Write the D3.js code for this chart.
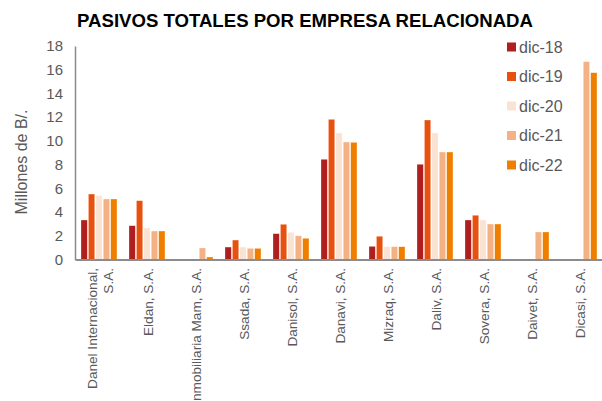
<!DOCTYPE html>
<html><head><meta charset="utf-8">
<script src="https://cdn.jsdelivr.net/npm/d3@7"></script>
<style>body{margin:0;background:#fff;} svg{display:block;font-family:"Liberation Sans",Arial,sans-serif;}</style>
</head><body><svg id="c" width="602" height="401"></svg>
<script>
const categories = ["Danel Internacional, S.A.","Eldan, S.A.","Inmobiliaria Mam, S.A.","Ssada, S.A.","Danisol, S.A.","Danavi, S.A.","Mizraq, S.A.","Daliv, S.A.","Sovera, S.A.","Daivet, S.A.","Dicasi, S.A."];
const categoryLines = [["Danel Internacional,","S.A."],["Eldan, S.A."],["Inmobiliaria Mam, S.A."],["Ssada, S.A."],["Danisol, S.A."],["Danavi, S.A."],["Mizraq, S.A."],["Daliv, S.A."],["Sovera, S.A."],["Daivet, S.A."],["Dicasi, S.A."]];
const seriesNames = ["dic-18","dic-19","dic-20","dic-21","dic-22"];
const dic18 = [3.33, 2.85, null, 1.05, 2.18, 8.45, 1.11, 8.03, 3.33, null, null];
const dic19 = [5.52, 4.96, null, 1.64, 2.97, 11.82, 1.96, 11.76, 3.73, null, null];
const dic20 = [5.38, 2.66, null, 1.05, 2.29, 10.67, 1.08, 10.67, 3.33, null, null];
const dic21 = [5.10, 2.40, 0.97, 0.94, 2.00, 9.91, 1.08, 9.06, 2.99, 2.32, 16.68];
const dic22 = [5.10, 2.40, 0.21, 0.94, 1.79, 9.88, 1.08, 9.06, 2.99, 2.32, 15.75];
const yTicks = [0,2,4,6,8,10,12,14,16,18];
const colors = ["#B01F1F","#E8500E","#FBE3D4","#F4B183","#EF7F00"];
const seriesValues = [dic18, dic19, dic20, dic21, dic22];

(function(){
const svg = d3.select("#c");
const pL = 75, pR = 603, pT = 46, pB = 259.5;
const x = d3.scaleBand().domain(categories).range([pL, pR]).paddingInner(0.25).paddingOuter(0.125);
const x1 = d3.scaleBand().domain(seriesNames).range([0, x.bandwidth()]).paddingInner(0.15);
const y = d3.scaleLinear().domain([0, 18]).range([pB, pT]);

svg.append("text").attr("x", 305).attr("y", 27).attr("text-anchor","middle")
  .attr("font-size", 18.6).attr("font-weight","bold").attr("fill","#000")
  .text("PASIVOS TOTALES POR EMPRESA RELACIONADA");

const g = svg.append("g");
seriesNames.forEach((s, si) => {
  g.selectAll(null).data(categories.map((c, i) => ({c, v: seriesValues[si][i]})).filter(d => d.v != null))
    .enter().append("rect")
    .attr("x", d => x(d.c) + x1(s))
    .attr("width", x1.bandwidth())
    .attr("y", d => y(d.v))
    .attr("height", d => y(0) - y(d.v))
    .attr("fill", colors[si])
    .attr("stroke", "#fff").attr("stroke-opacity", 0.5).attr("stroke-width", 0.6);
});

const ya = svg.append("g").attr("transform", `translate(${pL},0)`)
  .call(d3.axisLeft(y).tickValues(yTicks).tickSize(0).tickPadding(12));
ya.select(".domain").attr("stroke", "#898989").attr("stroke-width", 1.5);
ya.selectAll("text").attr("font-size", 15).attr("fill", "#595959").attr("font-family", "Liberation Sans, Arial, sans-serif");

const xa = svg.append("g").attr("transform", `translate(0,${pB})`)
  .call(d3.axisBottom(x).tickSize(0).tickFormat(""));
xa.select(".domain").attr("stroke", "#8c8c8c").attr("stroke-width", 2);

categories.forEach((c, i) => {
  const lines = categoryLines[i];
  const cx = x(c) + x.bandwidth() / 2 + 1;
  const t = svg.append("text")
    .attr("transform", `translate(${cx},268) rotate(-90)`)
    .attr("text-anchor", "end").attr("font-size", 13.6).attr("fill", "#595959");
  const lh = 16.5;
  lines.forEach((ln, li) => {
    t.append("tspan").attr("x", 0)
      .attr("y", (li - (lines.length - 1) / 2) * lh)
      .attr("dy", "0.35em").text(ln);
  });
});

svg.append("text").attr("transform", "translate(21,162) rotate(-90)")
  .attr("text-anchor","middle").attr("font-size", 16).attr("fill","#595959")
  .attr("dy","0.35em").text("Millones de B/.");

const lg = svg.append("g");
seriesNames.forEach((s, i) => {
  const cy = 47 + i * 29.5;
  lg.append("rect").attr("x", 507).attr("y", cy - 4.5).attr("width", 9).attr("height", 9).attr("fill", colors[i]);
  lg.append("text").attr("x", 519).attr("y", cy).attr("dy","0.35em")
    .attr("font-size", 16).attr("fill", "#595959").text(s);
});
})();
</script></body></html>
